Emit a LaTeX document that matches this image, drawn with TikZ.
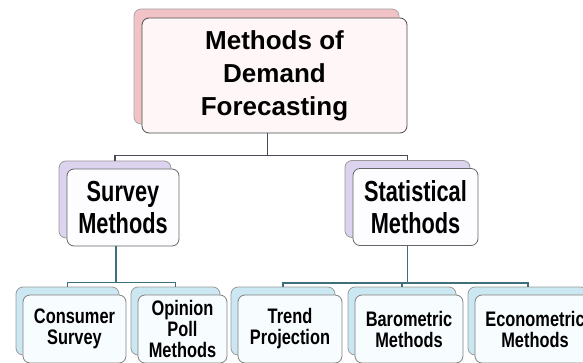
\documentclass[tikz,border=0pt]{standalone}
\usepackage{fontspec}
\setmainfont{Liberation Sans}
\newfontfamily\topfont{Liberation Sans Bold}
\newfontfamily\midfont[FakeStretch=0.75]{Liberation Sans Bold}
\newfontfamily\lowfont[FakeStretch=0.78]{Liberation Sans Bold}
\usepackage{tikz}
\usetikzlibrary{calc}
\usetikzlibrary{shadows}
\definecolor{pinkback}{HTML}{F2C3C6}
\definecolor{pinkfront}{HTML}{FFF7F7}
\definecolor{lilacback}{HTML}{DCD3EE}
\definecolor{lilacfront}{HTML}{FDFDFF}
\definecolor{blueback}{HTML}{CBE8F2}
\definecolor{bluefront}{HTML}{F7FCFE}
\definecolor{darkline}{HTML}{4B4A58}
\definecolor{tealline}{HTML}{3F6F7A}

\begin{document}
\begin{tikzpicture}[x=1pt,y=-1pt,
			box/.style={rectangle,rounded corners=7pt,align=center,inner sep=0pt,line width=0.8pt},
			Top/.style={box,draw=black!70,fill=pinkfront,minimum width=265pt,minimum height=115pt,
				font=\topfont\fontsize{26}{33}\selectfont,
				copy shadow={draw=black!35,fill=pinkback,shadow xshift=-8pt,shadow yshift=9pt}},
			Mid/.style={box,draw=black!60,fill=lilacfront,minimum height=77pt,
				font=\midfont\fontsize{29}{32}\selectfont,
				copy shadow={draw=black!40,fill=lilacback,shadow xshift=-8pt,shadow yshift=8pt}},
			Low/.style={box,draw=black!50,fill=bluefront,minimum height=68pt,
				font=\lowfont\fontsize{21}{21}\selectfont,
				copy shadow={draw=black!40,fill=blueback,shadow xshift=-7pt,shadow yshift=8pt}},
			]
			
			%clip
			\clip (0,0) rectangle (583,363);
			\useasboundingbox (0,0) rectangle (583,363);
			
			%top
			\node[Top] (Forecast) at (274.5,75.5) {Methods of\\Demand\\Forecasting};
			
			%second row
			\node[Mid,minimum width=112pt] (Survey) at (123,207.5) {Survey\\Methods};
			\node[Mid,minimum width=125pt] (Statistical) at (415.5,207) {Statistical\\Methods};
			
			%third row
			\node[Low,minimum width=103pt] (Consumer) at (74.5,329) {Consumer\\Survey};
			\node[Low,minimum width=89pt] (Opinion) at (182.5,329) {Opinion\\Poll\\Methods};
			\node[Low,minimum width=104pt] (Trend) at (290,329) {Trend\\Projection};
			\node[Low,minimum width=108pt] (Barometric) at (409,329) {Barometric\\Methods};
			\node[Low,minimum width=120pt] (Econometric) at (535,329) {Econometric\\Methods};
			
			%connectors
			\draw[darkline,line width=1.2pt] ($(Forecast.south)+(-7,0)$) -- ++(0,22) -| ($(Survey.north)+(-8,-8)$);
			\draw[darkline,line width=1.2pt] ($(Forecast.south)+(-7,0)$) -- ++(0,22) -| ($(Statistical.north)+(-8,-8)$);
			
			\foreach \child in {Consumer,Opinion}
			{
				\draw[tealline,line width=1.2pt] ($(Survey.south)+(-7,0)$) -- ++(0,36) -| ($(\child.north)+(-7,-8)$);
			}
			\foreach \child in {Trend,Barometric,Econometric}
			{
				\draw[tealline,line width=1.2pt] ($(Statistical.south)+(-8,0)$) -- ++(0,37) -| ($(\child.north)+(-7,-8)$);
			}
			
\end{tikzpicture}
\end{document}
